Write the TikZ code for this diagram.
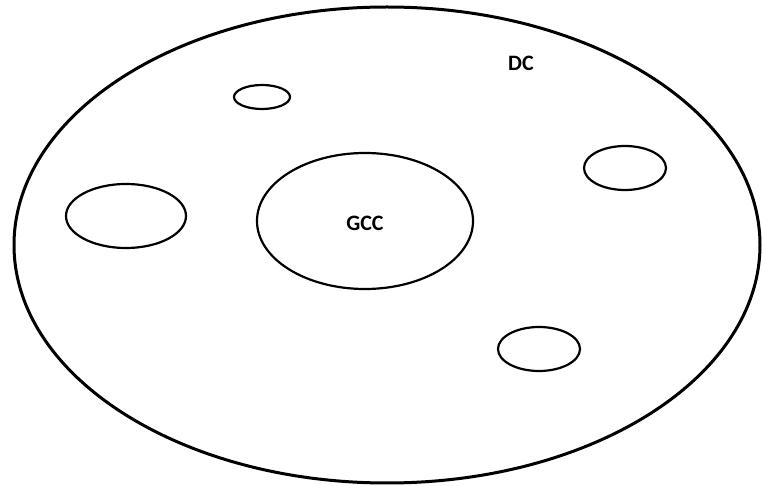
\documentclass[tikz,border=0pt]{standalone}
\usepackage{fontspec}
\setmainfont{Carlito}

\begin{document}
\begin{tikzpicture}[
  x=0.5pt,
  y=-0.5pt,
  outer/.style={
    draw,
    line width=1.5pt
  },
  blob/.style={
    draw,
    line width=1.1pt
  },
  tag/.style={
    inner sep=0pt,
    font=\bfseries\fontsize{11}{13}\selectfont
  }
]

\path[use as bounding box] (0,0) rectangle (762,486);

% whole component and its parts
\draw[outer] (387,245) ellipse [x radius=373, y radius=238];
\draw[blob] (365,221) ellipse [x radius=108, y radius=68];
\draw[blob] (126,216) ellipse [x radius=60, y radius=32];
\draw[blob] (262,97) ellipse [x radius=28, y radius=12];
\draw[blob] (625,168) ellipse [x radius=41, y radius=22];
\draw[blob] (539,349) ellipse [x radius=41, y radius=22];

\node[tag] (dc) at (521,63) {DC};
\node[tag] (gcc) at (365,223) {GCC};

\end{tikzpicture}
\end{document}
